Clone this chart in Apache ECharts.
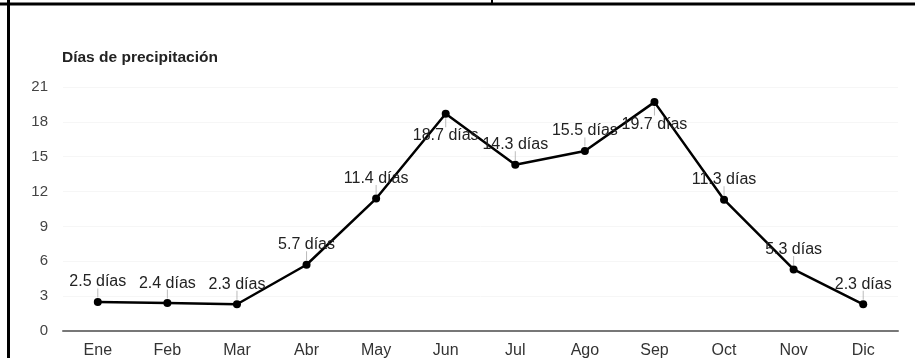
<!DOCTYPE html>
<html>
<head>
<meta charset="utf-8">
<script src="https://cdn.jsdelivr.net/npm/echarts@6/dist/echarts.min.js"></script>
<style>
  html, body { margin: 0; padding: 0; background: #fff; }
  #main { width: 915px; height: 358px; }
</style>
</head>
<body>
<div id="main"></div>
<script>
// datos
var meses = ['Ene', 'Feb', 'Mar', 'Abr', 'May', 'Jun', 'Jul', 'Ago', 'Sep', 'Oct', 'Nov', 'Dic'];
var dias = [2.5, 2.4, 2.3, 5.7, 11.4, 18.7, 14.3, 15.5, 19.7, 11.3, 5.3, 2.3];
var etiquetaAbajo = ['Jun', 'Sep'];  // etiquetas debajo del punto

var myChart = echarts.init(document.getElementById('main'));

var puntos = dias.map(function (v, i) {
  var abajo = etiquetaAbajo.indexOf(meses[i]) >= 0;
  return { value: v, label: { position: abajo ? 'bottom' : 'top', distance: abajo ? 10 : 8 } };
});
var guias = dias.map(function (v, i) {
  var abajo = etiquetaAbajo.indexOf(meses[i]) >= 0;
  return { value: v, symbolOffset: [0, abajo ? 9 : -9] };
});

myChart.setOption({
  animation: false,
  textStyle: { fontFamily: 'Arial, "Liberation Sans", sans-serif' },
  title: {
    text: 'Días de precipitación',
    left: 57,
    top: 45,
    textStyle: { fontSize: 15.5, fontWeight: 'bold', color: '#222' }
  },
  grid: { left: 63, right: 17, top: 87, bottom: 27, outerBoundsMode: 'none', containLabel: false },
  xAxis: {
    type: 'category',
    data: meses,
    boundaryGap: true,
    axisLine: { lineStyle: { color: '#777', width: 2 } },
    axisTick: { show: false },
    axisLabel: { color: '#333', fontSize: 16, margin: 12 }
  },
  yAxis: {
    type: 'value',
    min: 0,
    max: 21,
    interval: 3,
    axisLine: { show: false },
    axisTick: { show: false },
    axisLabel: { color: '#444', fontSize: 15, margin: 15 },
    splitLine: { lineStyle: { color: '#f6f6f6' } }
  },
  graphic: [
    { type: 'line', shape: { x1: 0, y1: 4, x2: 915, y2: 4 }, style: { stroke: '#000', lineWidth: 3 } },
    { type: 'line', shape: { x1: 8.5, y1: 0, x2: 8.5, y2: 358 }, style: { stroke: '#000', lineWidth: 3 } },
    { type: 'line', shape: { x1: 492, y1: 0, x2: 492, y2: 4 }, style: { stroke: '#000', lineWidth: 2 } }
  ],
  series: [
    {
      type: 'scatter',
      data: guias,
      symbol: 'rect',
      symbolSize: [1, 9],
      itemStyle: { color: '#aaa' },
      z: 1,
      silent: true
    },
    {
      name: 'Días de precipitación',
      type: 'line',
      data: puntos,
      symbol: 'circle',
      symbolSize: 8,
      lineStyle: { color: '#000', width: 2.5 },
      itemStyle: { color: '#000' },
      z: 3,
      label: {
        show: true,
        color: '#222',
        fontSize: 16,
        formatter: function (p) { return p.value + ' días'; }
      }
    }
  ]
});
</script>
</body>
</html>
